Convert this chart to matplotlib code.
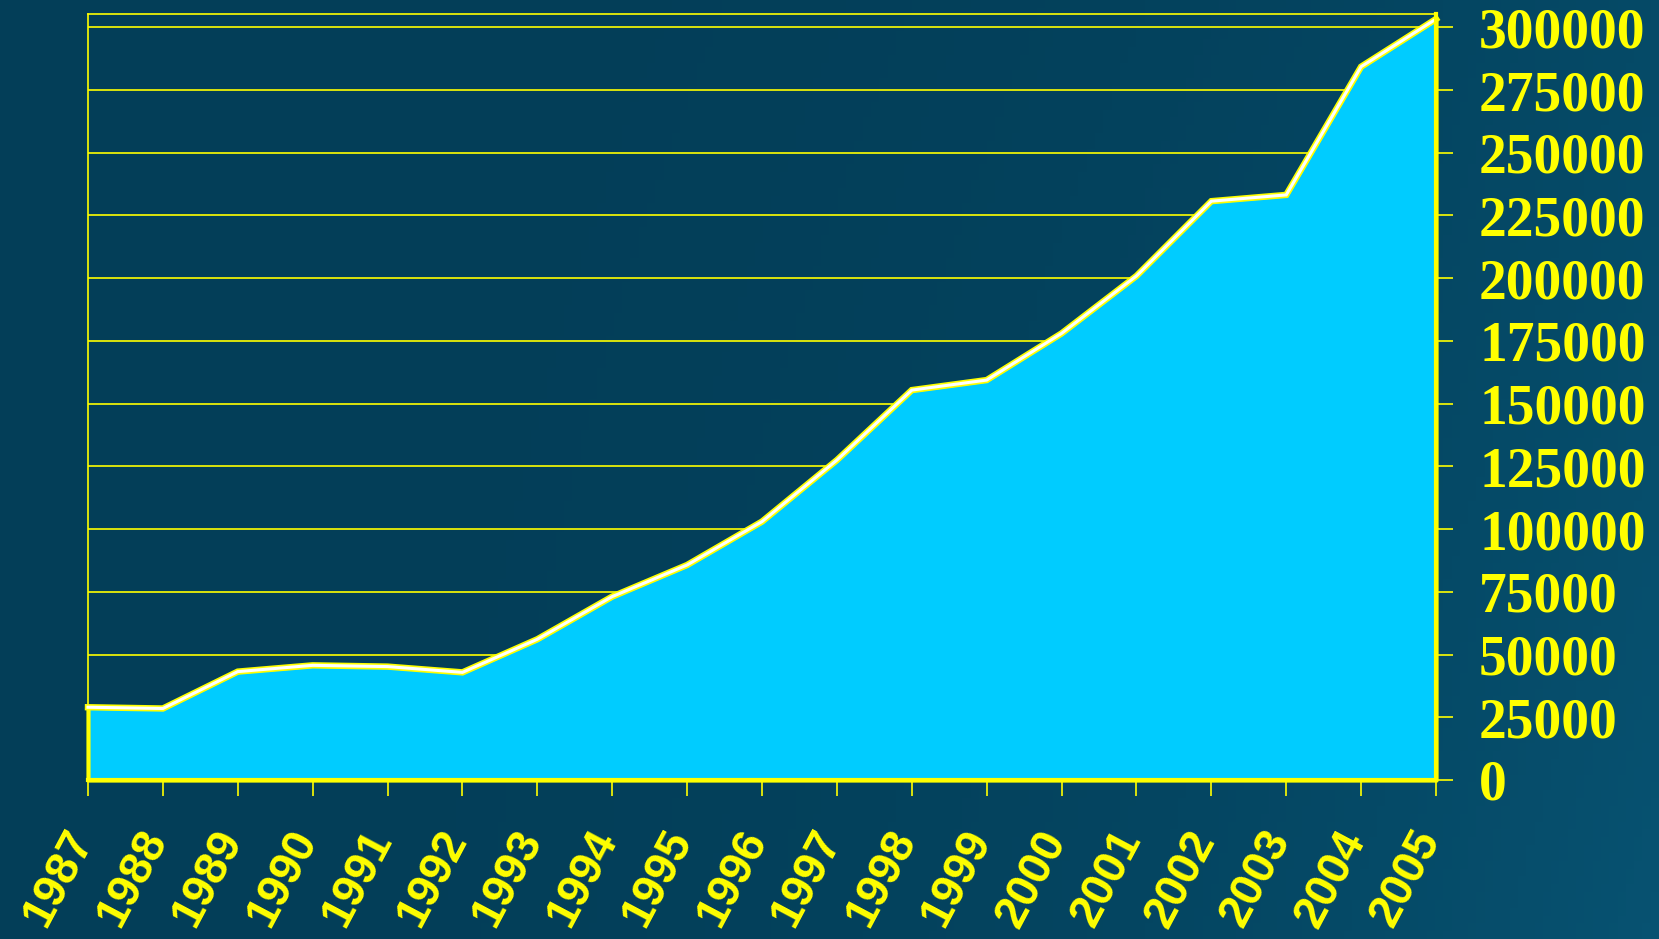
import numpy as np
import matplotlib.pyplot as plt
from matplotlib.transforms import ScaledTranslation

# ---- data ----
years = [str(y) for y in range(1987, 2006)]
values = [29000, 28500, 43200, 45700, 45200, 42900, 56100, 73100, 85700,
          103000, 127500, 155400, 159400, 178000, 200900, 230700, 233200,
          284300, 303300]
y_ticks = list(range(0, 300001, 25000))
y_tick_labels = [str(v) for v in y_ticks]

W, H = 1659, 939
fig = plt.figure(figsize=(W / 100, H / 100), dpi=100)

# background gradient
bg = fig.add_axes([0, 0, 1, 1], zorder=-10)
gx = np.linspace(0, 1, 200)[None, :]
gy = np.linspace(0, 1, 120)[:, None]
c0 = np.array([3, 62, 88]) / 255.0
c1 = np.array([8, 86, 118]) / 255.0
t = np.clip(0.5 * gx ** 3 + 0.35 * gy * gx ** 2, 0, 1)
img = c0[None, None, :] * (1 - t[..., None]) + c1[None, None, :] * t[..., None]
bg.imshow(img, aspect='auto', extent=[0, 1, 0, 1], origin='upper')
bg.axis('off')

yellow = '#FFFF00'
ax = fig.add_axes([88 / W, 1 - 780 / H, (1436 - 88) / W, (780 - 14) / H])
ax.set_facecolor('none')
x = np.arange(len(years))

ax.fill_between(x, values, 0, facecolor='#00CCFF', edgecolor=yellow,
                linewidth=3, zorder=2, clip_on=False)
ax.plot(x, values, color=yellow, lw=4.6, zorder=3, solid_joinstyle='miter', clip_on=False)
ax.plot(x, values, color='white', lw=2.2, zorder=4, solid_joinstyle='miter', clip_on=False)

ax.set_xlim(0, len(years) - 1)
ax.set_ylim(0, 305300)

ax.set_axisbelow(True)
ax.yaxis.grid(True, color=yellow, lw=1.2)
ax.xaxis.grid(False)

for s in ['left', 'top']:
    ax.spines[s].set_color(yellow)
    ax.spines[s].set_linewidth(1.2)
for s in ['right', 'bottom']:
    ax.spines[s].set_color(yellow)
    ax.spines[s].set_linewidth(3)
    ax.spines[s].set_zorder(5)

ax.yaxis.tick_right()
ax.set_yticks(y_ticks, labels=y_tick_labels, fontfamily='Liberation Serif',
              fontweight='bold', fontsize=40, color=yellow)
ax.tick_params(axis='y', direction='out', length=12, width=1.2,
               color=yellow, pad=19)

ax.set_xticks(x, labels=years, rotation=62, ha='right', va='center',
              rotation_mode='anchor', fontfamily='Liberation Sans',
              fontweight='bold', fontsize=33, color=yellow)
ax.tick_params(axis='x', direction='out', length=11.5, width=1.2,
               color=yellow, pad=27)
off = ScaledTranslation(-6 / 100, 0, fig.dpi_scale_trans)
for lbl in ax.get_xticklabels():
    lbl.set_transform(lbl.get_transform() + off)

fig.savefig('out.png', dpi=100)
